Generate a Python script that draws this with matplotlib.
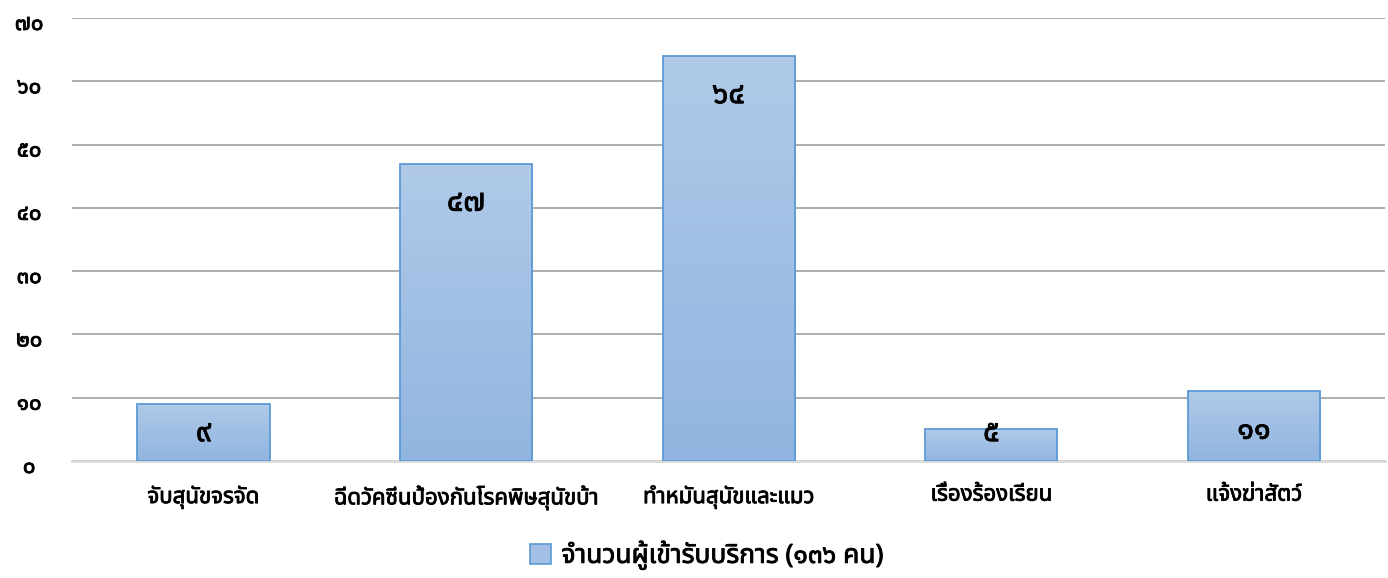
import matplotlib
matplotlib.use("Agg")
import matplotlib.pyplot as plt
import matplotlib.patheffects as pe
import matplotlib.transforms as mtransforms
import numpy as np
from matplotlib import font_manager
from matplotlib.ft2font import FT2Font
from matplotlib.patches import Patch

categories = ["จับสุนัขจรจัด", "ฉีดวัคซีนป้องกันโรคพิษสุนัขบ้า", "ทำหมันสุนัขและแมว",
              "เรื่องร้องเรียน", "แจ้งฆ่าสัตว์"]
values = [9, 47, 64, 5, 11]
yticks = [0, 10, 20, 30, 40, 50, 60, 70]
legend_label = "จำนวนผู้เข้ารับบริการ (๑๓๖ คน)"

thai_digits = str.maketrans("0123456789", "๐๑๒๓๔๕๖๗๘๙")


def find_thai_font():
    preferred = ["Noto Sans Thai", "Noto Sans Thai UI", "Loma", "Garuda", "Sarabun",
                 "Tahoma", "Leelawadee UI", "Kinnari", "Norasi", "Laksaman"]
    found = set()
    for f in font_manager.fontManager.ttflist:
        try:
            ft = FT2Font(f.fname)
            if ft.get_char_index(0x0E01) and ft.get_char_index(0x0E50):
                found.add(f.name)
        except Exception:
            pass
    for p in preferred:
        if p in found:
            return p
    if found:
        return sorted(found)[0]
    return "DejaVu Sans"


thai = find_thai_font()
plt.rcParams['font.family'] = [thai, 'DejaVu Sans']
# the Thai face has no bold cut, so thicken strokes instead
bold = [pe.withStroke(linewidth=0.6, foreground="black")]

fig = plt.figure(figsize=(13.88, 5.78), dpi=100)
ax = fig.add_axes([0.052, 0.2024, 0.946, 0.7665])

x = np.arange(len(categories))
width = 0.503

ax.set_xlim(-0.5, len(categories) - 0.5)
ax.set_ylim(0, 70)

# gradient image for bars
grad = np.linspace(0, 1, 256).reshape(-1, 1)
top_c = np.array([0.69, 0.79, 0.91])
bot_c = np.array([0.57, 0.71, 0.88])
img = top_c * (1 - grad[..., None]) + bot_c * grad[..., None]
img = img.reshape(256, 1, 3)

bars = ax.bar(x, values, width=width, color="none", edgecolor="#5b9bd5",
              linewidth=1.3, zorder=3)
for b in bars:
    x0, y0 = b.get_x(), b.get_y()
    w, h = b.get_width(), b.get_height()
    im = ax.imshow(img, extent=[x0, x0 + w, y0, y0 + h], aspect="auto",
                   zorder=2, origin="upper")
    im.set_clip_path(b)

for xi, v in zip(x, values):
    ypos = max(v - 6.2, 4.4)
    ax.text(xi, ypos, str(v).translate(thai_digits), ha="center", va="center",
            fontsize=22, zorder=4, path_effects=bold)

ax.set_yticks(yticks)
ax.set_yticklabels([str(t).translate(thai_digits) for t in yticks],
                   fontsize=16, ha="center", path_effects=bold)
ax.set_xticks(x)
ax.set_xticklabels(categories, fontsize=16, path_effects=bold)
ax.tick_params(axis="y", length=0, pad=31)
ax.tick_params(axis="x", length=0, pad=17)

# y labels sit a touch below their gridlines
shift = mtransforms.ScaledTranslation(0, -4 / 100, fig.dpi_scale_trans)
for lab in ax.get_yticklabels():
    lab.set_transform(lab.get_transform() + shift)

ax.yaxis.grid(True, color="#a6a6a6", linewidth=1.3, zorder=0)
ax.set_axisbelow(True)
for s in ["top", "right", "left"]:
    ax.spines[s].set_visible(False)
ax.spines["bottom"].set_color("#d9d9d9")
ax.spines["bottom"].set_linewidth(2)
ax.spines["bottom"].set_zorder(1)

handle = Patch(facecolor="#a3bfe5", edgecolor="#5b9bd5", linewidth=1.2)
leg = fig.legend([handle], [legend_label], loc="center", bbox_to_anchor=(0.509, 0.04),
                 frameon=False, prop={"size": 19},
                 handlelength=0.8, handleheight=0.8, handletextpad=0.4)
for t in leg.get_texts():
    t.set_path_effects(bold)

fig.savefig("out.png", dpi=100)
